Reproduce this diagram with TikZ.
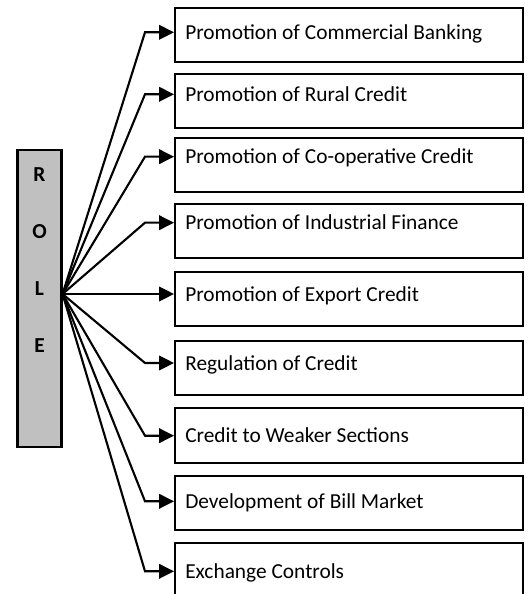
\documentclass[tikz,border=0pt]{standalone}
\usepackage{fontspec}
\setmainfont{Carlito}
\usetikzlibrary{arrows.meta}
\definecolor{roleGray}{HTML}{C0C0C0}

\begin{document}
\begin{tikzpicture}[
    box/.style={draw, line width=1.5pt, fill=white, minimum width=8.7cm, minimum height=1.3575cm, inner sep=0pt, anchor=north west},
    lbl/.style={anchor=base west, inner sep=0pt, font=\fontsize{15.2}{18}\selectfont},
    letter/.style={anchor=base, inner sep=0pt, font=\fontsize{15.2}{18}\selectfont\bfseries},
    link/.style={line width=1.5pt, -{Triangle[length=0.37cm,width=0.36cm]}}
]

    \useasboundingbox (0,0) rectangle (13.2,14.85);

    %role column
    \node[draw, line width=1.5pt, fill=roleGray, minimum width=1.1cm, minimum height=7.425cm, inner sep=0pt] (role) at (0.9875,7.3875) {};
    \node[letter] (lR) at (0.9875,10.32) {R};
    \node[letter] (lO) at (0.9875,8.895) {O};
    \node[letter] (lL) at (0.9875,7.4575) {L};
    \node[letter] (lE) at (0.9875,6.0325) {E};

    \coordinate (hub) at ([yshift=0.1125cm]role.east);
    \coordinate (kx) at (3.625,0);

    %boxes
    \node[box] (b1) at (4.35,14.6825) {};
    \node[box] (b2) at (4.35,13.0325) {};
    \node[box] (b3) at (4.35,11.4325) {};
    \node[box] (b4) at (4.35,9.7825) {};
    \node[box] (b5) at (4.35,8.0825) {};
    \node[box] (b6) at (4.35,6.3575) {};
    \node[box] (b7) at (4.35,4.6675) {};
    \node[box] (b8) at (4.35,2.975) {};
    \node[box] (b9) at (4.35,1.3075) {};

    \node[lbl] (t1) at (4.625,13.86) {Promotion of Commercial Banking};
    \node[lbl] (t2) at (4.625,12.31) {Promotion of Rural Credit};
    \node[lbl] (t3) at (4.625,10.75) {Promotion of Co-operative Credit};
    \node[lbl] (t4) at (4.625,9.10) {Promotion of Industrial Finance};
    \node[lbl] (t5) at (4.625,7.3175) {Promotion of Export Credit};
    \node[lbl] (t6) at (4.625,5.5925) {Regulation of Credit};
    \node[lbl] (t7) at (4.625,3.775) {Credit to Weaker Sections};
    \node[lbl] (t8) at (4.625,2.135) {Development of Bill Market};
    \node[lbl] (t9) at (4.625,0.385) {Exchange Controls};

    %arrow ends
    \coordinate (a1) at (b1.west |- 0,14.0425);
    \coordinate (a2) at (b2.west |- 0,12.4925);
    \coordinate (a3) at (b3.west |- 0,10.9325);
    \coordinate (a4) at (b4.west |- 0,9.2825);
    \coordinate (a5) at (b5.west |- 0,7.5);
    \coordinate (a6) at (b6.west |- 0,5.775);
    \coordinate (a7) at (b7.west |- 0,3.9575);
    \coordinate (a8) at (b8.west |- 0,2.3175);
    \coordinate (a9) at (b9.west |- 0,0.5675);

    \draw[link] (hub) -- (a1 -| kx) -- (a1);
    \draw[link] (hub) -- (a2 -| kx) -- (a2);
    \draw[link] (hub) -- (a3 -| kx) -- (a3);
    \draw[link] (hub) -- (a4 -| kx) -- (a4);
    \draw[link] (hub) -- (a5);
    \draw[link] (hub) -- (a6 -| kx) -- (a6);
    \draw[link] (hub) -- (a7 -| kx) -- (a7);
    \draw[link] (hub) -- (a8 -| kx) -- (a8);
    \draw[link] (hub) -- (a9 -| kx) -- (a9);

\end{tikzpicture}
\end{document}
